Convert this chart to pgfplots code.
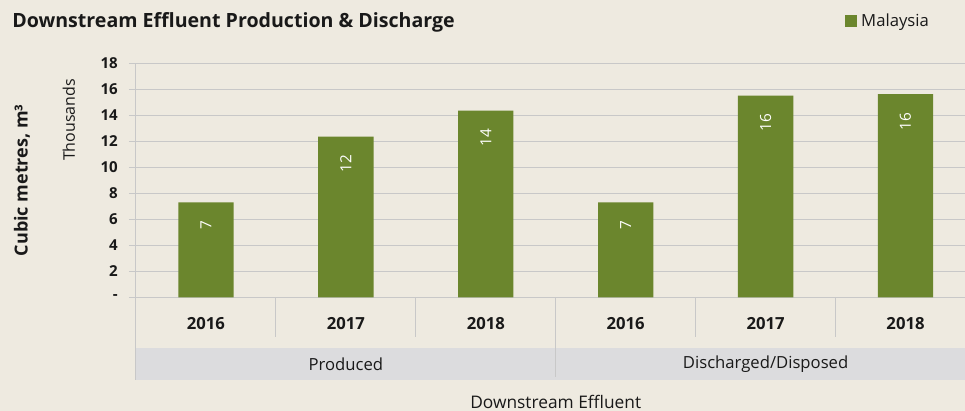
\documentclass[border=0pt]{standalone}
\usepackage{pgfplots}
\pgfplotsset{compat=1.18}
\usepackage{fontspec}
\setmainfont{Open Sans}
\definecolor{bg}{RGB}{238,234,224}
\definecolor{barc}{RGB}{107,134,45}
\definecolor{band}{RGB}{220,220,222}
\definecolor{gridc}{RGB}{200,200,200}
\definecolor{txt}{RGB}{25,25,25}
\begin{document}
\begin{tikzpicture}[x=1pt,y=1pt]
\fill[bg] (0,0) rectangle (723.75,308.25);
\node[anchor=base west, font=\bfseries\fontsize{14.7}{17}\selectfont, text=txt, inner sep=0pt] at (9,287.8) {Downstream Effluent Production \& Discharge};
\begin{axis}[
  at={(102pt,85.3pt)}, anchor=south west,
  scale only axis, width=629.6pt, height=175.5pt,
  xmin=-0.5, xmax=5.5, ymin=0, ymax=18,
  clip=false,
  /pgf/number format/assume math mode=true,
  axis x line*=bottom, axis y line*=left,
  axis line style={-, draw=gridc, line width=0.75pt},
  ymajorgrids, grid style={draw=gridc, line width=0.75pt},
  ytick={0,2,4,6,8,10,12,14,16,18},
  yticklabels={-,2,4,6,8,10,12,14,16,18},
  ytick align=outside, major tick length=5.25pt,
  ytick style={draw=gridc, line width=0.75pt},
  xtick={0,1,2,3,4,5},
  xticklabels={2016,2017,2018,2016,2017,2018},
  xtick style={draw=none},
  xticklabel style={anchor=base, yshift=-24.5pt, inner sep=0pt, font=\bfseries\fontsize{12.5}{15}\selectfont, text=txt},
  yticklabel style={anchor=east, inner sep=0pt, xshift=-8.25pt, font=\bfseries\fontsize{11.3}{13}\selectfont, text=txt},
  legend style={at={(0.8447,1.181)}, anchor=west, draw=none, fill=none, inner sep=0pt, font=\fontsize{12.5}{15}\selectfont, text=txt},
  legend cell align=left,
  legend image code/.code={\fill[barc] (0pt,-4.5pt) rectangle (9pt,4.5pt); \path (9.9pt,0pt);},
  nodes near coords={\pgfmathprintnumber[fixed,precision=0]{\pgfplotspointmeta}},
  every node near coord/.append style={rotate=90, anchor=east, xshift=-13.5pt, inner sep=0pt, text=white, font=\fontsize{11.5}{13}\selectfont},
]
\addplot[ybar, bar width=41.5pt, fill=barc, draw=none] coordinates {(0,7.3) (1,12.35) (2,14.35) (3,7.3) (4,15.52) (5,15.62)};
\addlegendentry{Malaysia}
\fill[band] ([yshift=-38pt]axis cs:-0.5,0) rectangle ([yshift=-62pt]axis cs:5.5,0);
\draw[gridc, line width=0.75pt] (axis cs:-0.5,0) -- ([yshift=-62.25pt]axis cs:-0.5,0);
\pgfplotsinvokeforeach{0.5,1.5,3.5,4.5}{\draw[gridc, line width=0.75pt] (axis cs:#1,0) -- ([yshift=-30pt]axis cs:#1,0);}
\draw[gridc, line width=0.75pt] (axis cs:2.5,0) -- ([yshift=-60pt]axis cs:2.5,0);
\draw[gridc, line width=0.75pt] (axis cs:5.5,0) -- ([yshift=-60pt]axis cs:5.5,0);
\node[font=\fontsize{12.5}{15}\selectfont, text=txt] at ([yshift=-50pt]axis cs:1,0) {Produced};
\node[font=\fontsize{12.5}{15}\selectfont, text=txt] at ([yshift=-50pt]axis cs:4,0) {Discharged/Disposed};
\node[rotate=90, font=\bfseries\fontsize{13.5}{16}\selectfont, text=txt] at ([xshift=-85.5pt]rel axis cs:0,0.5) {Cubic metres, m³};
\node[rotate=90, font=\fontsize{12}{14}\selectfont, text=txt] at ([xshift=-50.25pt]rel axis cs:0,0.758) {Thousands};
\node[anchor=base, inner sep=0pt, font=\fontsize{13}{15}\selectfont, text=txt] at ([yshift=-83.5pt]rel axis cs:0.5,0) {Downstream Effluent};
\end{axis}
\pgfresetboundingbox
\path[use as bounding box] (0,0) rectangle (723.75,308.25);
\end{tikzpicture}
\end{document}
